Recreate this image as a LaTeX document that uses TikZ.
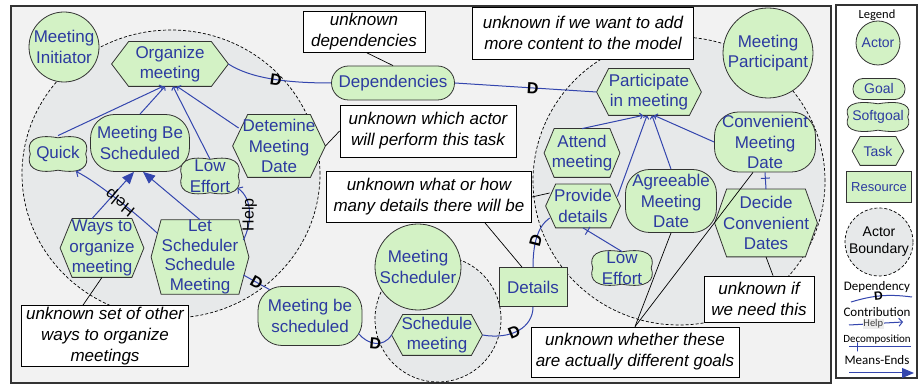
\documentclass[tikz,border=0pt]{standalone}
\usepackage{fontspec}
\setmainfont{Liberation Sans}
\newfontfamily\calib{Carlito}
\usetikzlibrary{arrows.meta}

\makeatletter
\newdimen\shpL \newdimen\shpR \newdimen\shpT \newdimen\shpB
\newdimen\shpX \newdimen\shpY \newdimen\shpH \newdimen\shpD
\def\hexinset{11pt}
% elongated hexagon for tasks
\pgfdeclareshape{taskhex}{%
  \inheritsavedanchors[from=rectangle]%
  \inheritanchorborder[from=rectangle]%
  \inheritanchor[from=rectangle]{center}%
  \inheritanchor[from=rectangle]{north}%
  \inheritanchor[from=rectangle]{south}%
  \inheritanchor[from=rectangle]{east}%
  \inheritanchor[from=rectangle]{west}%
  \inheritanchor[from=rectangle]{north east}%
  \inheritanchor[from=rectangle]{north west}%
  \inheritanchor[from=rectangle]{south east}%
  \inheritanchor[from=rectangle]{south west}%
  \inheritanchor[from=rectangle]{mid}%
  \inheritanchor[from=rectangle]{base}%
  \backgroundpath{%
    \southwest \shpL=\pgf@x \shpB=\pgf@y
    \northeast \shpR=\pgf@x \shpT=\pgf@y
    \shpY=.5\shpB \advance\shpY by .5\shpT
    \pgfpathmoveto{\pgfqpoint{\shpL}{\shpY}}%
    \pgfpathlineto{\pgfqpoint{\dimexpr\shpL+\hexinset\relax}{\shpT}}%
    \pgfpathlineto{\pgfqpoint{\dimexpr\shpR-\hexinset\relax}{\shpT}}%
    \pgfpathlineto{\pgfqpoint{\shpR}{\shpY}}%
    \pgfpathlineto{\pgfqpoint{\dimexpr\shpR-\hexinset\relax}{\shpB}}%
    \pgfpathlineto{\pgfqpoint{\dimexpr\shpL+\hexinset\relax}{\shpB}}%
    \pgfpathclose
  }%
}
% pillow-like outline for softgoals
\pgfdeclareshape{softgoal}{%
  \inheritsavedanchors[from=rectangle]%
  \inheritanchorborder[from=rectangle]%
  \inheritanchor[from=rectangle]{center}%
  \inheritanchor[from=rectangle]{north}%
  \inheritanchor[from=rectangle]{south}%
  \inheritanchor[from=rectangle]{east}%
  \inheritanchor[from=rectangle]{west}%
  \inheritanchor[from=rectangle]{north east}%
  \inheritanchor[from=rectangle]{north west}%
  \inheritanchor[from=rectangle]{south east}%
  \inheritanchor[from=rectangle]{south west}%
  \inheritanchor[from=rectangle]{mid}%
  \inheritanchor[from=rectangle]{base}%
  \backgroundpath{%
    \southwest \shpL=\pgf@x \shpB=\pgf@y
    \northeast \shpR=\pgf@x \shpT=\pgf@y
    \shpX=.5\shpL \advance\shpX by .5\shpR
    \shpY=.5\shpB \advance\shpY by .5\shpT
    \shpH=\shpT \advance\shpH by -\shpB \shpH=.16667\shpH
    \shpD=2.2pt
    \pgfpathmoveto{\pgfqpoint{\shpX}{\dimexpr\shpT-\shpD\relax}}%
    \pgfpathcurveto{\pgfqpoint{\dimexpr\shpR-\shpH\relax}{\dimexpr\shpT+\shpD\relax}}%
      {\pgfqpoint{\dimexpr\shpR+\shpD\relax}{\dimexpr\shpT-\shpH\relax}}%
      {\pgfqpoint{\dimexpr\shpR-\shpD\relax}{\shpY}}%
    \pgfpathcurveto{\pgfqpoint{\dimexpr\shpR+\shpD\relax}{\dimexpr\shpB+\shpH\relax}}%
      {\pgfqpoint{\dimexpr\shpR-\shpH\relax}{\dimexpr\shpB-\shpD\relax}}%
      {\pgfqpoint{\shpX}{\dimexpr\shpB+\shpD\relax}}%
    \pgfpathcurveto{\pgfqpoint{\dimexpr\shpL+\shpH\relax}{\dimexpr\shpB-\shpD\relax}}%
      {\pgfqpoint{\dimexpr\shpL-\shpD\relax}{\dimexpr\shpB+\shpH\relax}}%
      {\pgfqpoint{\dimexpr\shpL+\shpD\relax}{\shpY}}%
    \pgfpathcurveto{\pgfqpoint{\dimexpr\shpL-\shpD\relax}{\dimexpr\shpT-\shpH\relax}}%
      {\pgfqpoint{\dimexpr\shpL+\shpH\relax}{\dimexpr\shpT+\shpD\relax}}%
      {\pgfqpoint{\shpX}{\dimexpr\shpT-\shpD\relax}}%
    \pgfpathclose
  }%
}
\makeatother

\definecolor{framebg}{HTML}{F2F2F2}
\definecolor{actbg}{HTML}{E7E9EA}
\definecolor{ielgreen}{HTML}{D3F2C5}
\definecolor{ieltext}{HTML}{2C3AA0}
\definecolor{ielline}{HTML}{3446AE}
\definecolor{outline}{HTML}{333333}

\tikzset{
  sz/.style 2 args={minimum width=#1pt, minimum height=#2pt},
  hexin/.code={\def\hexinset{#1}},
  elem/.style={fill=ielgreen, draw=outline, line width=.8pt, text=ieltext,
    font=\fontsize{17}{20.5}\selectfont, align=center, inner sep=0pt},
  actornode/.style={elem, circle, minimum size=#1},
  goal/.style={elem, rectangle, rounded corners=#1},
  task/.style={elem, taskhex},
  sgoal/.style={elem, softgoal},
  resource/.style={elem, rectangle},
  lg/.style={font=\fontsize{14}{17}\selectfont},
  memo/.style={fill=white, draw=black, line width=.8pt, align=center, inner sep=0pt,
    font=\itshape\fontsize{17}{21}\selectfont},
  boundary/.style={fill=actbg, draw=black, line width=.7pt, dash pattern=on 3pt off 2pt},
  conn/.style={draw=ielline, line width=1pt},
  dec/.style={conn, -{Straight Barb[length=2.5pt,width=6pt]}},
  meansend/.style={conn, -{Triangle[length=12pt,width=10pt]}},
  contrib/.style={conn, -{Straight Barb[length=3.5pt,width=8pt]}},
  depl/.style={conn},
  Dl/.style={font=\bfseries\fontsize{16}{16}\selectfont, text=black, sloped, inner sep=0pt},
  decotick/.style={sloped, draw=ielline, line width=1pt, minimum width=0pt,
    minimum height=9pt, inner sep=0pt},
  helplbl/.style={font=\fontsize{16}{16}\selectfont, text=black, inner sep=0pt},
  noteline/.style={draw=black, line width=.7pt},
  lgtxt/.style={font=\calib\fontsize{13}{13}\selectfont, text=black, inner sep=0pt},
}

\begin{document}
\begin{tikzpicture}[x=1pt, y=1pt]
\useasboundingbox (0,0) rectangle (920,385);
\fill[white] (0,0) rectangle (920,385);

% model area and legend frame
\draw[fill=framebg, draw=outline, line width=1.2pt] (11,2) rectangle (831,379);
\draw[fill=white, draw=outline, line width=1.2pt] (836,7) rectangle (917,380);

% actor boundaries
\path[boundary] (171,211) ellipse [x radius=149, y radius=144];
\path[boundary] (679,204) ellipse [x radius=146, y radius=144];
\path[boundary] (438,66) circle [radius=63];

% Meeting Initiator
\node[actornode=70pt] (mi) at (64,338) {Meeting\\Initiator};
\node[task, sz={116}{44}, hexin=17pt] (org) at (170,321) {Organize\\meeting};
\node[goal=24pt, sz={99}{57}] (mbs) at (140,242) {Meeting Be\\Scheduled};
\node[sgoal, sz={59}{36}] (quick) at (58,231) {Quick};
\node[sgoal, sz={60}{37}] (low1) at (210,209) {Low\\Effort};
\node[task, sz={92}{62}, hexin=15pt] (det) at (279,239) {Detemine\\Meeting\\Date};
\node[task, sz={83}{58}, hexin=12pt] (ways) at (102,137) {Ways to\\organize\\meeting};
\node[task, sz={97}{72}, hexin=10pt, font=\fontsize{17}{19.5}\selectfont] (let) at (200,128) {Let\\Scheduler\\Schedule\\Meeting};

% dependums
\node[goal=24pt, sz={104}{59}] (mbsch) at (310,69) {Meeting be\\scheduled};
\node[goal=17pt, sz={123}{34}] (dep) at (393,302) {Dependencies};
\node[resource, sz={68}{39}] (det2) at (533,98) {Details};

% Meeting Scheduler
\node[actornode=86pt] (ms) at (418,118) {Meeting\\Scheduler};
\node[task, sz={90}{40}, hexin=11pt] (sched) at (437,50) {Schedule\\meeting};

% Meeting Participant
\node[actornode=90pt] (mp) at (768,332) {Meeting\\Participant};
\node[task, sz={104}{46}, hexin=12pt] (part) at (649,293) {Participate\\in meeting};
\node[goal=24pt, sz={101}{60}] (cmd) at (765,243) {Convenient\\Meeting\\Date};
\node[task, sz={75}{48}, hexin=10pt] (att) at (582,232) {Attend\\meeting};
\node[task, sz={74}{43}, hexin=10pt] (prov) at (583,179) {Provide\\details};
\node[goal=24pt, sz={91}{63}] (agree) at (671,184) {Agreeable\\Meeting\\Date};
\node[task, sz={102}{67}, hexin=12pt] (decide) at (766,162) {Decide\\Convenient\\Dates};
\node[sgoal, sz={62}{36}] (low2) at (622,117) {Low\\Effort};

% annotations
\node[memo, sz={167}{61}] (nset) at (105,49) {unknown set of other\\ways to organize\\meetings};
\node[memo, sz={122}{41}] (ndep) at (364,353) {unknown\\dependencies};
\node[memo, sz={176}{52}] (nwhich) at (428,254) {unknown which actor\\will perform this task};
\node[memo, sz={221}{52}] (nadd) at (583,352) {unknown if we want to add\\more content to the model};
\node[memo, sz={205}{51}] (nwhat) at (429,188) {unknown what or how\\many details there will be};
\node[memo, sz={208}{50}] (nwhether) at (635,33) {unknown whether these\\are actually different goals};
\node[memo, sz={110}{46}] (nneed) at (759,86) {unknown if\\we need this};

% decompositions of Organize meeting
\draw[dec] (quick.north) -- ([xshift=-7pt]org.south);
\draw[dec] (mbs.north) -- ([xshift=-5pt]org.south);
\draw[dec] ([yshift=-2pt]low1.north) -- ([xshift=3pt]org.south);
\draw[dec] ([shift={(6pt,18pt)}]det.west) -- ([xshift=7pt]org.south);

% means-ends into Meeting Be Scheduled
\draw[meansend] ([xshift=-10pt]ways.north) -- ([xshift=-6pt]mbs.south);
\draw[meansend] (let.north) -- ([xshift=3pt]mbs.south);

% contributions
\draw[contrib] ([shift={(6pt,24pt)}]let.west) .. controls (139,169) and (97.5,203) ..
  ([shift={(-12pt,1pt)}]quick.south east) node[helplbl, pos=.47, rotate=141] {Help};
\draw[contrib] ([shift={(-5.5pt,17pt)}]let.east) .. controls (252,162) and (253,186) ..
  ([shift={(-3pt,7pt)}]low1.south east) node[helplbl, pos=.45, rotate=90] {Help};

% dependencies
\draw[depl] (org.east) .. controls (250,307) and (285,302) .. (dep.west) node[Dl, pos=.55] {D};
\draw[depl] (dep.east) -- (part.west) node[Dl, pos=.55] {D};
\draw[depl] ([shift={(-5.5pt,-18pt)}]let.east) -- ([shift={(12pt,-3.5pt)}]mbsch.north west) node[Dl, pos=.5] {D};
\draw[depl] ([shift={(-4pt,12.5pt)}]mbsch.south east) .. controls (368,40) and (383,37) .. (sched.west) node[Dl, pos=.5] {D};
\draw[depl] (sched.east) .. controls (512,45) and (533,58) .. (det2.south) node[Dl, pos=.42] {D};
\draw[depl] (det2.north) .. controls (533,140) and (537,158) .. ([shift={(4pt,-12pt)}]prov.west) node[Dl, pos=.45] {D};

% decompositions of Participate in meeting
\draw[dec] (att.north) -- ([xshift=-6pt]part.south);
\draw[dec] ([shift={(-3pt,-12.5pt)}]prov.north east) -- ([xshift=-2pt]part.south);
\draw[dec] (agree.north) -- ([xshift=3pt]part.south);
\draw[dec] (cmd.west) -- ([xshift=5pt]part.south);

% task decompositions
\draw[conn] (prov.south) -- ([yshift=-2pt]low2.north) node[decotick, pos=.12] {};
\draw[conn] (cmd.south) -- (decide.north) node[decotick, pos=.35] {};

% annotation leaders
\draw[noteline] ([xshift=3pt]ndep.south) -- (dep.north);
\draw[noteline] (nwhich.west) -- (det.east);
\draw[noteline] (nwhat.east) -- ([shift={(4pt,13pt)}]prov.west);
\draw[noteline] ([xshift=56pt]nwhat.south) -- ([xshift=-11pt]det2.north);
\draw[noteline] (nwhether.north) -- (agree.south);
\draw[noteline] (nwhether.north) -- ([xshift=-12pt]cmd.south);
\draw[noteline] ([xshift=14pt]nneed.north) -- (decide.south);
\draw[noteline] ([xshift=-22pt]nset.north) -- (ways.south);

% legend
\node[lgtxt, font=\calib\fontsize{12.5}{12.5}\selectfont] (lgtitle) at (877,370) {Legend};
\node[actornode=44pt, lg] (lactor) at (878,342) {Actor};
\node[goal=10pt, sz={52}{21}, lg] (lgoal) at (879,296) {Goal};
\node[sgoal, sz={63}{30}, lg] (lsoft) at (878,268) {Softgoal};
\node[task, sz={51}{28}, hexin=8pt, lg] (ltask) at (878,234) {Task};
\node[resource, sz={65}{31}, font=\fontsize{13}{13}\selectfont] (lres) at (879,198) {Resource};
\node[boundary, circle, minimum size=68pt, inner sep=0pt, align=center, text=black,
  font=\fontsize{14}{17}\selectfont] (lbound) at (879,143) {Actor\\Boundary};

\node[lgtxt] (tdep) at (877,98) {Dependency};
\coordinate (lgdA) at (851,83);
\coordinate (lgdB) at (912,88);
\draw[depl] (lgdA) to[bend left=12] node[Dl, pos=.45, font=\bfseries\fontsize{12}{12}\selectfont] {D} (lgdB);

\node[lgtxt] (tcon) at (877,73) {Contribution};
\coordinate (lgcA) at (849,60);
\coordinate (lgcB) at (903,63);
\draw[contrib] (lgcA) -- node[pos=.45, fill=black!7, text=black!75, inner sep=.6pt,
  font=\calib\fontsize{10.5}{10.5}\selectfont] {Help} (lgcB);

\node[lgtxt, font=\calib\fontsize{11}{11}\selectfont] (tdec) at (877,45) {Decomposition};
\coordinate (lgxA) at (849,38);
\coordinate (lgxB) at (911,38);
\draw[conn] (lgxA) -- (lgxB) node[decotick, pos=.13] {};

\node[lgtxt] (tme) at (877,25) {Means-Ends};
\coordinate (lgmA) at (849,12);
\coordinate (lgmB) at (914,12);
\draw[meansend] (lgmA) -- (lgmB);
\end{tikzpicture}
\end{document}
